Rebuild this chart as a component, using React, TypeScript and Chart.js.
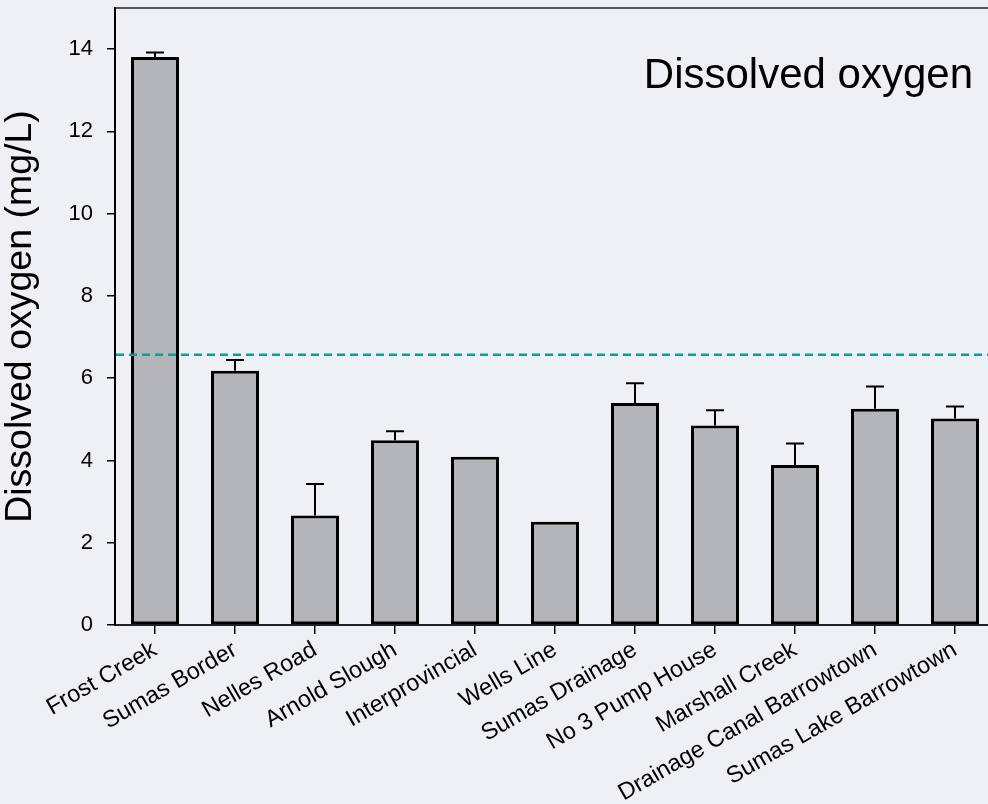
import React, { useEffect, useRef } from "react";
import { Chart, registerables } from "chart.js";

Chart.register(...registerables);

const categories = [
  "Frost Creek",
  "Sumas Border",
  "Nelles Road",
  "Arnold Slough",
  "Interprovincial",
  "Wells Line",
  "Sumas Drainage",
  "No 3 Pump House",
  "Marshall Creek",
  "Drainage Canal Barrowtown",
  "Sumas Lake Barrowtown",
];
const meanDO = [13.81, 6.18, 2.66, 4.49, 4.09, 2.51, 5.4, 4.85, 3.89, 5.26, 5.02];
const errorDO = [0.11, 0.26, 0.77, 0.22, 0, 0, 0.48, 0.37, 0.52, 0.54, 0.29];
const yTicks = [0, 2, 4, 6, 8, 10, 12, 14];
const yMin = 0;
const yMax = 15;
const guideline = 6.57;
const chartTitle = "Dissolved oxygen";
const yAxisTitle = "Dissolved oxygen (mg/L)";

const BG = "#edf0f5";
const FONT = "'Liberation Sans', Arial, sans-serif";

const extras = {
  id: "extras",
  afterDatasetsDraw(chart: any) {
    const { ctx, chartArea, scales } = chart;
    const x = scales.x;
    const y = scales.y;
    ctx.save();
    // error bars
    ctx.strokeStyle = "#000";
    ctx.lineWidth = 2;
    meanDO.forEach((v, i) => {
      const e = errorDO[i];
      if (!e) return;
      const px = x.getPixelForValue(i);
      const y0 = y.getPixelForValue(v);
      const y1 = y.getPixelForValue(v + e);
      ctx.beginPath();
      ctx.moveTo(px, y0);
      ctx.lineTo(px, y1);
      ctx.moveTo(px - 9, y1);
      ctx.lineTo(px + 9, y1);
      ctx.stroke();
    });
    // guideline
    const gy = y.getPixelForValue(guideline);
    ctx.strokeStyle = "#17999b";
    ctx.lineWidth = 2.5;
    ctx.setLineDash([8, 5]);
    ctx.beginPath();
    ctx.moveTo(chartArea.left + 1, gy);
    ctx.lineTo(chartArea.right, gy);
    ctx.stroke();
    ctx.setLineDash([]);
    // top frame
    ctx.strokeStyle = "#222";
    ctx.lineWidth = 1.5;
    ctx.beginPath();
    ctx.moveTo(chartArea.left, chartArea.top);
    ctx.lineTo(chartArea.right, chartArea.top);
    ctx.stroke();
    // title
    ctx.fillStyle = "#000";
    ctx.font = `42px ${FONT}`;
    ctx.textAlign = "right";
    ctx.textBaseline = "alphabetic";
    ctx.fillText(chartTitle, chartArea.left + 858, chartArea.top + 80);
    ctx.restore();
  },
};

const zeroPad = (s: any) => {
  s.paddingTop = 0;
  s.paddingBottom = 0;
  s.paddingLeft = 0;
  s.paddingRight = 0;
};

export default function App() {
  const ref = useRef<HTMLCanvasElement>(null);
  useEffect(() => {
    document.body.style.margin = "0";
    document.body.style.background = BG;
    const canvas = ref.current!;
    const chart = new Chart(canvas, {
      type: "bar",
      data: {
        labels: categories,
        datasets: [
          {
            data: meanDO,
            backgroundColor: "#b3b5b9",
            borderColor: "#000",
            borderWidth: 3,
            borderSkipped: false,
            barPercentage: 0.6,
            categoryPercentage: 1,
          },
        ],
      },
      options: {
        responsive: false,
        animation: false,
        devicePixelRatio: 1,
        layout: { padding: { top: 8, right: 5, left: 0, bottom: 0 } },
        plugins: {
          legend: { display: false },
          tooltip: { enabled: false },
          title: { display: false },
        },
        scales: {
          x: {
            offset: true,
            grid: {
              offset: false,
              drawOnChartArea: false,
              drawTicks: true,
              tickLength: 9,
              color: "#000",
              lineWidth: 1.5,
            },
            border: { display: true, color: "#222", width: 2 },
            ticks: {
              autoSkip: false,
              maxRotation: 30,
              minRotation: 30,
              padding: 2,
              color: "#000",
              font: { family: FONT, size: 23.5 },
            },
            afterFit: (s: any) => {
              s.height = 179;
              zeroPad(s);
            },
          },
          y: {
            min: yMin,
            max: yMax,
            grid: {
              drawOnChartArea: false,
              drawTicks: true,
              tickLength: 8,
              color: "#000",
              lineWidth: 1.5,
            },
            border: { display: true, color: "#000", width: 2 },
            ticks: {
              padding: 14,
              color: "#000",
              font: { family: FONT, size: 22 },
            },
            afterBuildTicks: (s: any) => {
              s.ticks = yTicks.map((v) => ({ value: v }));
            },
            afterFit: (s: any) => {
              s.width = 115;
              zeroPad(s);
            },
            title: {
              display: true,
              text: yAxisTitle,
              color: "#000",
              font: { family: FONT, size: 37.5, lineHeight: 1.1 },
              padding: { top: 0, bottom: 0 },
            },
          },
        },
      },
      plugins: [extras],
    });
    return () => chart.destroy();
  }, []);
  return (
    <div style={{ width: 988, height: 804, overflow: "hidden", background: BG, position: "relative" }}>
      <canvas ref={ref} width={1000} height={804} style={{ display: "block", width: 1000, height: 804 }} />
    </div>
  );
}
